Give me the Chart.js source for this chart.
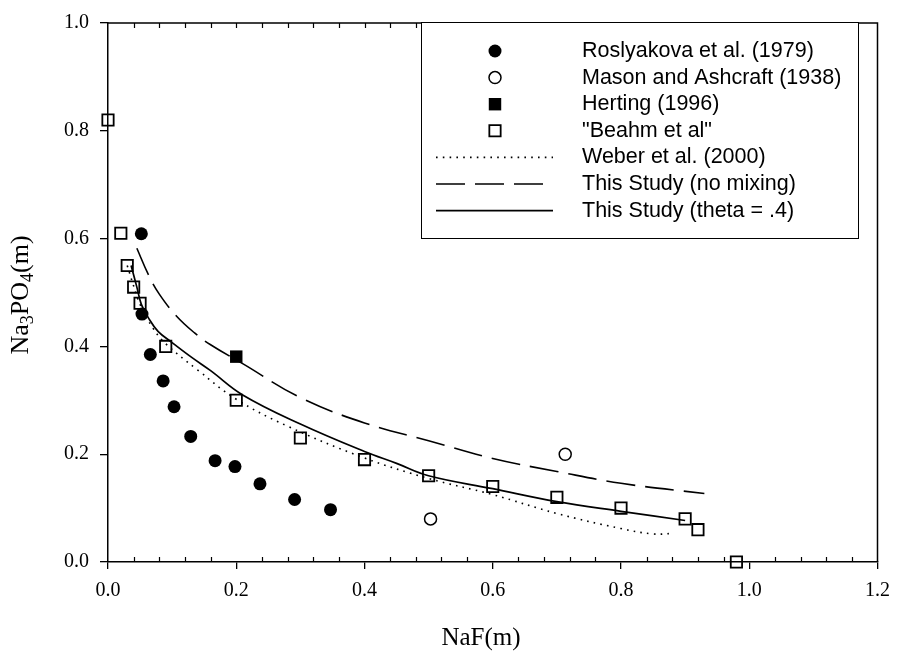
<!DOCTYPE html>
<html lang="en">
<head>
    <meta charset="utf-8" />
    <title>Na3PO4 vs NaF</title>
    <style>
        html, body {
            margin: 0;
            padding: 0;
            background: white;
        }

        #container {
            width: 900px;
            height: 652px;
        }
    </style>
</head>
<body>
    <div id="container">
        <canvas id="chart"></canvas>
    </div>

    <script src="https://cdn.jsdelivr.net/npm/chart.js@4.4.3/dist/chart.umd.min.js"></script>
    <script>
        // measured data
        const roslyakovaX = [0.052, 0.053, 0.066, 0.086, 0.103, 0.129, 0.167, 0.198, 0.237, 0.291, 0.347];
        const roslyakovaY = [0.609, 0.460, 0.385, 0.336, 0.288, 0.233, 0.188, 0.177, 0.145, 0.116, 0.097];

        const masonX = [0.503, 0.713];
        const masonY = [0.080, 0.200];

        const hertingX = [0.2];
        const hertingY = [0.381];

        const beahmX = [0.0, 0.02, 0.03, 0.04, 0.05, 0.09, 0.2, 0.3, 0.4, 0.5, 0.6, 0.7, 0.8, 0.9, 0.92, 0.98];
        const beahmY = [0.82, 0.61, 0.55, 0.51, 0.48, 0.40, 0.30, 0.23, 0.19, 0.16, 0.14, 0.12, 0.10, 0.08, 0.06, 0.0];

        const weberX = [0.03, 0.04, 0.05, 0.07, 0.09, 0.14, 0.2, 0.28, 0.4, 0.5, 0.6, 0.7, 0.8, 0.85, 0.88];
        const weberY = [0.55, 0.512, 0.478, 0.434, 0.405, 0.356, 0.302, 0.252, 0.193, 0.155, 0.125, 0.09, 0.062, 0.052, 0.053];

        const noMixX = [0.045, 0.063, 0.08, 0.107, 0.135, 0.16, 0.21, 0.3, 0.4, 0.5, 0.6, 0.7, 0.8, 0.93];
        const noMixY = [0.582, 0.533, 0.497, 0.456, 0.425, 0.403, 0.368, 0.305, 0.258, 0.225, 0.192, 0.168, 0.146, 0.127];

        const thetaX = [0.036, 0.045, 0.052, 0.063, 0.078, 0.1, 0.13, 0.16, 0.21, 0.3, 0.4, 0.45, 0.5, 0.6, 0.7, 0.8, 0.9];
        const thetaY = [0.55, 0.51, 0.478, 0.453, 0.428, 0.407, 0.38, 0.355, 0.31, 0.256, 0.205, 0.183, 0.16, 0.136, 0.112, 0.094, 0.077];

        const xTicks = [0, 0.2, 0.4, 0.6, 0.8, 1.0, 1.2];
        const yTicks = [0, 0.2, 0.4, 0.6, 0.8, 1.0];

        const serif = "'Liberation Serif', 'Times New Roman', serif";
        const sans = "'Liberation Sans', Arial, sans-serif";

        function pts(xs, ys) {
            return xs.map((x, i) => ({ x: x, y: ys[i] }));
        }

        const datasets = [
            {
                label: 'Roslyakova et al. (1979)',
                data: pts(roslyakovaX, roslyakovaY),
                pointStyle: 'circle',
                pointRadius: 6.5,
                pointBorderWidth: 0,
                backgroundColor: '#000',
                borderColor: '#000',
            },
            {
                label: 'Mason and Ashcraft (1938)',
                data: pts(masonX, masonY),
                pointStyle: 'circle',
                pointRadius: 6,
                pointBorderWidth: 1.5,
                backgroundColor: 'rgba(0,0,0,0)',
                borderColor: '#000',
            },
            {
                label: 'Herting (1996)',
                data: pts(hertingX, hertingY),
                pointStyle: 'rect',
                pointRadius: 8.8,
                pointBorderWidth: 0,
                backgroundColor: '#000',
                borderColor: '#000',
            },
            {
                label: '"Beahm et al"',
                data: pts(beahmX, beahmY),
                pointStyle: 'rect',
                pointRadius: 8,
                pointBorderWidth: 1.8,
                backgroundColor: 'rgba(0,0,0,0)',
                borderColor: '#000',
            },
            {
                label: 'Weber et al. (2000)',
                data: pts(weberX, weberY),
                showLine: true,
                pointRadius: 0,
                borderColor: '#000',
                borderWidth: 1.6,
                borderDash: [1.6, 5.2],
                tension: 0.4,
            },
            {
                label: 'This Study (no mixing)',
                data: pts(noMixX, noMixY),
                showLine: true,
                pointRadius: 0,
                borderColor: '#000',
                borderWidth: 1.6,
                borderDash: [29, 10],
                tension: 0.4,
            },
            {
                label: 'This Study (theta = .4)',
                data: pts(thetaX, thetaY),
                showLine: true,
                pointRadius: 0,
                borderColor: '#000',
                borderWidth: 1.7,
                tension: 0.4,
            },
        ];

        datasets.forEach(d => { d.clip = false; });

        // frame, minor ticks, axis titles and the boxed legend
        const decorations = {
            id: 'decorations',
            afterDatasetsDraw(chart) {
                const ctx = chart.ctx;
                const area = chart.chartArea;
                const xs = chart.scales.x;

                ctx.save();
                ctx.strokeStyle = '#000';
                ctx.lineWidth = 1.5;
                ctx.beginPath();
                ctx.moveTo(area.left, area.top);
                ctx.lineTo(area.right, area.top);
                ctx.lineTo(area.right, area.bottom);
                ctx.stroke();

                ctx.lineWidth = 1.2;
                ctx.beginPath();
                for (let i = 1; i < 30; i++) {
                    const px = Math.round(xs.getPixelForValue(i * 0.04)) + 0.5;
                    ctx.moveTo(px, area.top);
                    ctx.lineTo(px, area.top + 5);
                    if (i % 5 !== 0) {
                        ctx.moveTo(px, area.bottom);
                        ctx.lineTo(px, area.bottom - 5);
                    }
                }
                ctx.stroke();

                // axis titles
                ctx.fillStyle = '#000';
                ctx.font = '25px ' + serif;
                ctx.textAlign = 'center';
                ctx.textBaseline = 'alphabetic';
                ctx.fillText('NaF(m)', 481, 645);

                const parts = [['Na', false], ['3', true], ['PO', false], ['4', true], ['(m)', false]];
                const big = '26px ' + serif;
                const small = '18px ' + serif;
                let total = 0;
                parts.forEach(p => {
                    ctx.font = p[1] ? small : big;
                    total += ctx.measureText(p[0]).width;
                });
                ctx.translate(28, 295);
                ctx.rotate(-Math.PI / 2);
                ctx.textAlign = 'left';
                let cx = -total / 2;
                parts.forEach(p => {
                    ctx.font = p[1] ? small : big;
                    ctx.fillText(p[0], cx, p[1] ? 5 : 0);
                    cx += ctx.measureText(p[0]).width;
                });
                ctx.restore();

                // legend box
                ctx.save();
                const box = { left: 421, top: 22, right: 858, bottom: 238 };
                ctx.fillStyle = '#fff';
                ctx.fillRect(box.left, box.top, box.right - box.left, box.bottom - box.top);
                ctx.strokeStyle = '#000';
                ctx.lineWidth = 1;
                ctx.strokeRect(box.left + 0.5, box.top + 0.5, box.right - box.left, box.bottom - box.top);

                ctx.font = '21.5px ' + sans;
                ctx.textBaseline = 'middle';
                ctx.textAlign = 'left';
                chart.data.datasets.forEach((d, i) => {
                    const y = 51 + i * 26.6;
                    if (d.showLine) {
                        ctx.save();
                        ctx.strokeStyle = d.borderColor;
                        ctx.lineWidth = d.borderWidth;
                        ctx.setLineDash(d.borderDash || []);
                        ctx.beginPath();
                        ctx.moveTo(436, y);
                        ctx.lineTo(553, y);
                        ctx.stroke();
                        ctx.restore();
                    } else {
                        const cx0 = 495;
                        ctx.save();
                        ctx.beginPath();
                        if (d.pointStyle === 'circle') {
                            ctx.arc(cx0, y, d.pointRadius, 0, Math.PI * 2);
                        } else {
                            const s = d.pointRadius * Math.SQRT1_2;
                            ctx.rect(cx0 - s, y - s, 2 * s, 2 * s);
                        }
                        ctx.fillStyle = d.backgroundColor;
                        ctx.fill();
                        if (d.pointBorderWidth > 0) {
                            ctx.lineWidth = d.pointBorderWidth;
                            ctx.strokeStyle = d.borderColor;
                            ctx.stroke();
                        }
                        ctx.restore();
                    }
                    ctx.fillStyle = '#000';
                    ctx.fillText(d.label, 582, y);
                });
                ctx.restore();
            }
        };

        const config = {
            type: 'scatter',
            data: { datasets: datasets },
            options: {
                responsive: true,
                maintainAspectRatio: false,
                animation: false,
                events: [],
                layout: {
                    padding: { top: 20, right: 17, left: 0, bottom: 0 }
                },
                plugins: {
                    legend: { display: false },
                    tooltip: { enabled: false }
                },
                scales: {
                    x: {
                        type: 'linear',
                        min: 0,
                        max: 1.2,
                        afterBuildTicks: scale => { scale.ticks = xTicks.map(v => ({ value: v })); },
                        afterFit: scale => { scale.height = 90; },
                        ticks: {
                            callback: v => v.toFixed(1),
                            color: '#000',
                            font: { family: serif, size: 20 },
                            padding: 10,
                            maxRotation: 0,
                        },
                        grid: {
                            drawOnChartArea: false,
                            color: '#000',
                            lineWidth: 1.3,
                            tickLength: 7,
                        },
                        border: { color: '#000', width: 1.5 },
                    },
                    y: {
                        type: 'linear',
                        min: 0,
                        max: 1.0,
                        afterBuildTicks: scale => { scale.ticks = yTicks.map(v => ({ value: v })); },
                        afterFit: scale => { scale.width = 108; },
                        ticks: {
                            callback: v => v.toFixed(1),
                            color: '#000',
                            font: { family: serif, size: 20 },
                            padding: 11,
                        },
                        grid: {
                            drawOnChartArea: false,
                            color: '#000',
                            lineWidth: 1.3,
                            tickLength: 8,
                        },
                        border: { color: '#000', width: 1.5 },
                    }
                }
            },
            plugins: [decorations]
        };

        const myChart = new Chart(document.getElementById('chart'), config);
    </script>
</body>
</html>
